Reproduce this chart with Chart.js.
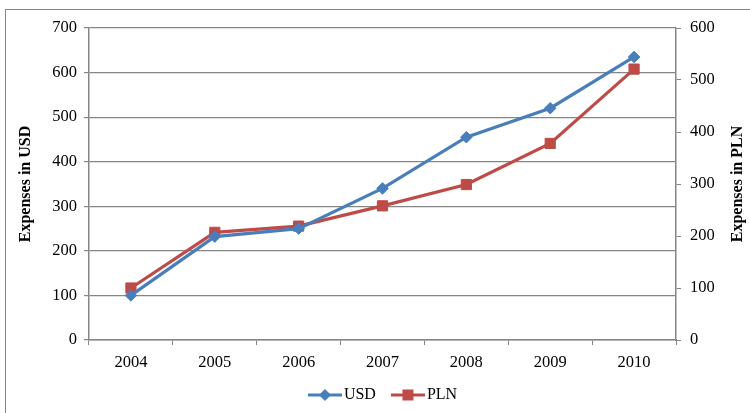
<!DOCTYPE html>
<html>
<head>
<meta charset="utf-8">
<script src="https://cdn.jsdelivr.net/npm/chart.js@4/dist/chart.umd.min.js"></script>
<style>
  html, body { margin: 0; padding: 0; background: #fff; }
  #wrap { position: relative; width: 750px; height: 413px; }
</style>
</head>
<body>
<div id="wrap"><canvas id="c" width="750" height="413"></canvas></div>
<script>
// Yearly expenses, USD on the left axis and PLN on the right axis
const years = ['2004', '2005', '2006', '2007', '2008', '2009', '2010'];
const usdValues = [100, 232, 250, 340, 455, 520, 635];
const plnValues = [100, 207, 219, 258, 299, 378, 521];
const usdTicks = [0, 100, 200, 300, 400, 500, 600, 700];
const plnTicks = [0, 100, 200, 300, 400, 500, 600];
const leftTitle = 'Expenses in USD';
const rightTitle = 'Expenses in PLN';

const BLUE = '#4A7EBB';
const RED = '#BE4B48';
const AXIS = '#868686';
const FONT = '"Liberation Serif", "Times New Roman", serif';
const TICK_SIZE = 16.5;

// line + marker swatch for a legend entry; the drawn part sits at the
// right of a wider transparent image so it lines up close to the text
function swatch(color, shape) {
  const cv = document.createElement('canvas');
  cv.width = 40; cv.height = 14;
  const g = cv.getContext('2d');
  const x0 = 6;
  g.strokeStyle = color; g.lineWidth = 3;
  g.beginPath(); g.moveTo(x0, 7); g.lineTo(x0 + 34, 7); g.stroke();
  g.fillStyle = color;
  g.beginPath();
  if (shape === 'diamond') {
    g.moveTo(x0 + 17, 1); g.lineTo(x0 + 23, 7); g.lineTo(x0 + 17, 13); g.lineTo(x0 + 11, 7);
  } else {
    g.rect(x0 + 11.5, 1.5, 11, 11);
  }
  g.closePath(); g.fill();
  return cv;
}

const frame = {
  id: 'frame',
  beforeDraw(chart) {
    const ctx = chart.ctx;
    ctx.save();
    ctx.strokeStyle = AXIS; ctx.lineWidth = 1;
    ctx.strokeRect(5.5, 9.5, 900, 600);
    ctx.restore();
  },
  afterDraw(chart) {
    const ctx = chart.ctx;
    const area = chart.chartArea;
    ctx.save();
    ctx.fillStyle = '#000';
    ctx.font = 'bold 16px ' + FONT;
    ctx.textAlign = 'center';
    ctx.textBaseline = 'middle';
    ctx.translate(738, (area.top + area.bottom) / 2);
    ctx.rotate(-Math.PI / 2);
    ctx.fillText(rightTitle, 0, 0);
    ctx.restore();
  }
};

new Chart(document.getElementById('c'), {
  type: 'line',
  data: {
    labels: years,
    datasets: [
      {
        label: 'USD', data: usdValues, yAxisID: 'y',
        borderColor: BLUE, backgroundColor: BLUE, borderWidth: 3.2,
        pointStyle: 'rectRot', pointRadius: 5.8, pointBorderWidth: 1,
        pointBackgroundColor: BLUE, pointBorderColor: BLUE, tension: 0
      },
      {
        label: 'PLN', data: plnValues, yAxisID: 'y1',
        borderColor: RED, backgroundColor: RED, borderWidth: 3.2,
        pointStyle: 'rect', pointRadius: 7.2, pointBorderWidth: 1,
        pointBackgroundColor: RED, pointBorderColor: RED, tension: 0
      }
    ]
  },
  options: {
    responsive: false,
    animation: false,
    devicePixelRatio: 1,
    layout: { padding: { top: 28, left: 0, right: 0, bottom: 0 } },
    plugins: {
      tooltip: { enabled: false },
      legend: {
        position: 'bottom',
        fullSize: false,
        labels: {
          usePointStyle: true,
          pointStyleWidth: 28,
          padding: 15,
          color: '#000',
          font: { family: FONT, size: 16 },
          generateLabels(chart) {
            return chart.data.datasets.map((ds, i) => ({
              text: ds.label,
              fillStyle: ds.borderColor,
              strokeStyle: ds.borderColor,
              lineWidth: 0,
              pointStyle: swatch(ds.borderColor, i === 0 ? 'diamond' : 'square'),
              datasetIndex: i,
              hidden: false
            }));
          }
        }
      }
    },
    scales: {
      x: {
        offset: true,
        grid: { offset: true, drawOnChartArea: false, drawTicks: true, tickLength: 5, color: AXIS },
        border: { color: AXIS, width: 1.5 },
        ticks: { color: '#000', font: { family: FONT, size: TICK_SIZE }, padding: 8, maxRotation: 0 },
        afterFit(s) { s.height = 32; }
      },
      y: {
        position: 'left',
        min: 0, max: 700,
        afterBuildTicks(s) { s.ticks = usdTicks.map(v => ({ value: v })); },
        grid: { color: AXIS, lineWidth: 1.2, tickLength: 5, drawTicks: true },
        border: { color: AXIS, width: 1.5 },
        ticks: { color: '#000', font: { family: FONT, size: TICK_SIZE }, padding: 7 },
        title: { display: true, text: leftTitle, color: '#000', font: { family: FONT, size: 16, weight: 'bold' }, padding: { top: 16, bottom: 0 } },
        afterFit(s) { s.width = 89; }
      },
      y1: {
        position: 'right',
        min: 0, max: 600,
        afterBuildTicks(s) { s.ticks = plnTicks.map(v => ({ value: v })); },
        grid: { drawOnChartArea: false, tickLength: 5, color: AXIS },
        border: { color: AXIS, width: 1.5 },
        ticks: { color: '#000', font: { family: FONT, size: TICK_SIZE }, padding: 9 },
        afterFit(s) { s.width = 74; }
      }
    }
  },
  plugins: [frame]
});
</script>
</body>
</html>
